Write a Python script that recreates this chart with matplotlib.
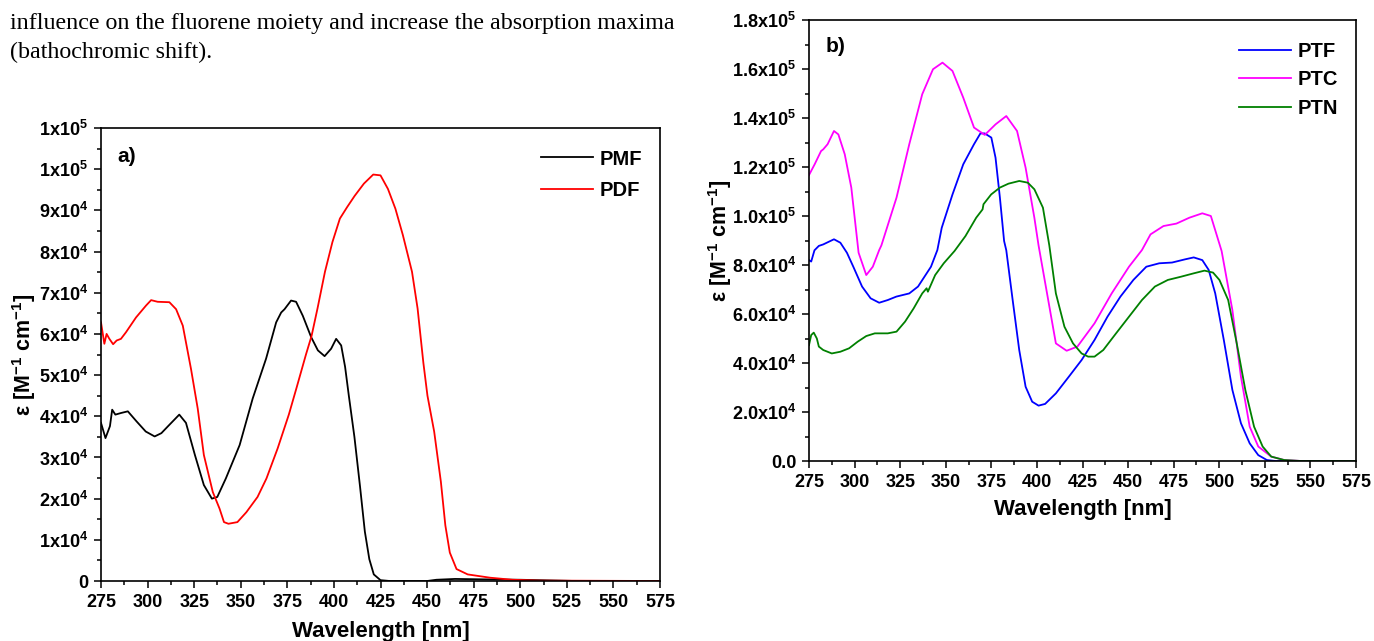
import numpy as np
import matplotlib
matplotlib.use("Agg")
import matplotlib.pyplot as plt
from matplotlib.ticker import MultipleLocator

plt.rcParams['font.family'] = ['Liberation Sans', 'DejaVu Sans']
plt.rcParams['font.weight'] = 'bold'
plt.rcParams['mathtext.fontset'] = 'custom'
plt.rcParams['mathtext.rm'] = 'Liberation Sans:bold'
plt.rcParams['mathtext.it'] = 'Liberation Sans:italic:bold'
plt.rcParams['mathtext.bf'] = 'Liberation Sans:bold'
plt.rcParams['mathtext.default'] = 'rm'

# panel a) PMF / PDF
pmf_wl = [275, 277.4, 279.8, 281, 282.7, 285.8, 289.4, 294, 299, 303.8, 307.4, 311, 317, 320.6,
          325.4, 330.2, 334.5, 337.4, 342, 349.4, 356.4, 363.6, 369, 371.7, 373.5, 377, 379.7,
          383.3, 387.8, 391.4, 395, 398.5, 401.2, 403.9, 406, 408, 411, 414, 416.6, 419, 421.4,
          425, 430, 450, 455, 465, 480, 500, 520, 530, 575]
pmf_eps = [38400, 34700, 37600, 41600, 40400, 40800, 41200, 38800, 36300, 35100, 35900, 37600,
           40400, 38400, 30600, 23300, 20000, 20400, 24900, 33000, 44300, 54000, 62800, 65200,
           66000, 68100, 67800, 64400, 59200, 56000, 54600, 56400, 58800, 57200, 52000, 45000,
           35000, 23000, 12000, 5300, 1600, 200, 0, 0, 300, 500, 400, 300, 100, 0, 0]

pdf_wl = [275, 276.8, 278, 279.5, 281.5, 283.4, 285.7, 288.4, 293.8, 299.2, 301.9, 305.4, 311.7,
          315.3, 318.9, 323.3, 326.9, 330.2, 335, 338.6, 341, 343.4, 348.2, 353, 359, 363.8,
          369.8, 375.8, 380, 385, 388, 391.2, 395.2, 399.2, 403.2, 407.1, 411.1, 416.1, 421.1,
          425, 429, 433, 437, 441.9, 444.9, 448, 450.2, 453.8, 457.4, 459.8, 462.2, 465.8,
          471.8, 483.8, 495.8, 510, 575]
pdf_eps = [62800, 57600, 60000, 58800, 57500, 58400, 58800, 60400, 64000, 66900, 68200, 67800,
           67700, 66000, 62000, 51500, 41900, 30600, 21600, 17600, 14300, 13900, 14300, 16700,
           20400, 24900, 32200, 40400, 47000, 55000, 59500, 66200, 75100, 82300, 88000, 90800,
           93500, 96500, 98700, 98500, 95200, 90400, 84000, 75100, 66200, 53000, 45000, 36300,
           24100, 13500, 6900, 2900, 1600, 800, 300, 100, 0]

# panel b) PTF / PTC / PTN
ptf_wl = [275, 276.2, 278, 280.4, 282.8, 288.7, 292.2, 295.8, 299.3, 304.1, 308.8, 313.5, 318.2,
          322.9, 330, 334.8, 341.9, 345.4, 347.8, 353.7, 359.6, 365.5, 369, 371.4, 375, 377.3,
          379.7, 382, 383.2, 386.7, 390.3, 393.8, 397.4, 400.9, 404.5, 410.4, 417.5, 424.5,
          431.6, 438.7, 445.8, 452.9, 460, 467.1, 474.1, 481.2, 486, 490.7, 494.2, 497.8, 502.5,
          507.2, 511.9, 516.7, 521.4, 526.1, 530.9, 575]
ptf_eps = [82000, 81400, 86000, 87800, 88400, 90500, 89100, 85000, 79300, 71200, 66400, 64600,
           65700, 67100, 68400, 71200, 79300, 86100, 95200, 108800, 121100, 129300, 133700,
           133700, 132000, 123800, 107500, 89800, 86000, 65700, 45300, 30300, 24200, 22600,
           23300, 27600, 34400, 41200, 49400, 58900, 67100, 73900, 79300, 80700, 81000, 82300,
           83100, 82000, 78000, 68400, 49400, 29000, 15400, 7200, 2400, 400, 0, 0]

ptc_wl = [275, 278.1, 281.6, 282.8, 285.2, 288.7, 291.1, 294.6, 298.2, 302.2, 306.4, 310,
          313.5, 314.7, 323, 330, 337.1, 343, 348.2, 353.7, 359.6, 365.5, 371.4, 377.3, 383.2,
          389.1, 393.8, 398.6, 400.9, 410.4, 416.3, 422.2, 431.6, 441, 450.5, 457.6, 462.3,
          469.4, 476.5, 483.6, 490.7, 495.4, 501.3, 507.2, 511.9, 516.7, 521.4, 528.5, 535.6,
          545, 575]
ptc_eps = [116700, 121100, 126500, 127200, 129300, 134700, 133300, 125200, 111600, 85000, 75900,
           79300, 86100, 88000, 107500, 129300, 149700, 159900, 162600, 159200, 148300, 136100,
           133100, 137400, 140800, 134700, 119700, 99300, 88000, 48000, 45000, 46700, 56200,
           68400, 79300, 86100, 92500, 95900, 96900, 99300, 101100, 100000, 85700, 61600, 34400,
           14000, 5900, 1800, 400, 0, 0]

ptn_wl = [275, 276.2, 277.6, 279.3, 280.4, 282.8, 287.5, 292.2, 297, 301.7, 306.4, 311.1, 318.2,
          323, 327.7, 332.4, 337.1, 339.5, 340.2, 344.2, 348.9, 354.8, 360.8, 366.7, 370.2,
          370.7, 374.9, 379.7, 384.4, 390.3, 395, 398.6, 403.3, 406.8, 410.4, 415.1, 419.8,
          424.5, 428.1, 431.6, 436.4, 443.4, 450.5, 457.6, 464.7, 471.8, 478.9, 486, 491.9,
          496.6, 500.1, 504.9, 509.6, 514.3, 519.1, 523.8, 528.5, 535.6, 545, 575]
ptn_eps = [47300, 51400, 52400, 50000, 46700, 45300, 43900, 44600, 46000, 48700, 51000, 52100,
           52100, 52800, 56900, 62300, 68400, 70500, 69100, 75900, 80700, 85700, 91800, 99300,
           102700, 104800, 108800, 111600, 113200, 114300, 113600, 110900, 103400, 88000, 68400,
           54800, 48000, 43900, 42600, 42600, 45300, 52100, 58900, 65700, 71200, 73900, 75200,
           76600, 77700, 76900, 73900, 65700, 48000, 29000, 14000, 5900, 1800, 400, 0, 0]

a_yticks = np.arange(0, 110001, 10000)
a_ylabels = ['0'] + [f'{i}x10$^{{4}}$' for i in range(1, 10)] + ['1x10$^{5}$', '1x10$^{5}$']
b_yticks = np.arange(0, 180001, 20000)
b_ylabels = ['0.0', '2.0x10$^{4}$', '4.0x10$^{4}$', '6.0x10$^{4}$', '8.0x10$^{4}$',
             '1.0x10$^{5}$', '1.2x10$^{5}$', '1.4x10$^{5}$', '1.6x10$^{5}$', '1.8x10$^{5}$']

W, H = 1374, 641
fig = plt.figure(figsize=(W / 100, H / 100), dpi=100)
fig.patch.set_facecolor('white')

fig.text(10 / W, 1 - 23 / H, 'influence on the fluorene moiety and increase the absorption maxima',
         family='Liberation Serif', weight='normal', fontsize=17.3, va='center')
fig.text(10 / W, 1 - 52 / H, '(bathochromic shift).',
         family='Liberation Serif', weight='normal', fontsize=17.3, va='center')

ax1 = fig.add_axes([101 / W, (H - 581) / H, 559 / W, 453 / H])
ax2 = fig.add_axes([809 / W, (H - 461) / H, 547 / W, 441 / H])


def style(ax, yticks, ylabels, ymax, yminor, ylab_x, xlab_y):
    ax.set_xlim(275, 575)
    ax.set_ylim(0, ymax)
    ax.set_xticks(np.arange(275, 576, 25))
    ax.xaxis.set_minor_locator(MultipleLocator(12.5))
    ax.set_yticks(yticks)
    ax.set_yticklabels(ylabels)
    ax.yaxis.set_minor_locator(MultipleLocator(yminor))
    ax.tick_params(which='major', direction='out', length=5.2, width=1.1, labelsize=13, pad=4)
    ax.tick_params(which='minor', direction='out', length=3.1, width=1.1)
    ax.tick_params(top=False, right=False, which='both')
    for s in ax.spines.values():
        s.set_linewidth(1.2)
    ax.set_xlabel('Wavelength [nm]', fontsize=16, fontweight='bold')
    ax.set_ylabel('ε [M$^{-1}$ cm$^{-1}$]', fontsize=15.5, fontweight='bold')
    ax.yaxis.set_label_coords(ylab_x, 0.5)
    ax.xaxis.set_label_coords(0.5, xlab_y)


ax1.plot(pmf_wl, pmf_eps, color='black', lw=1.3, label='PMF')
ax1.plot(pdf_wl, pdf_eps, color='red', lw=1.3, label='PDF')
style(ax1, a_yticks, a_ylabels, 110000, 5000, (38 - 101) / 559, (581 - 621) / 453)
ax1.text(0.030, 0.936, 'a)', transform=ax1.transAxes, fontsize=15, fontweight='bold', va='center')
ax1.legend(loc='upper right', bbox_to_anchor=(0.968, 0.9525), frameon=False, fontsize=14.5,
           handlelength=2.6, handletextpad=0.32, labelspacing=0.6, borderpad=0, borderaxespad=0)

ax2.plot(ptf_wl, ptf_eps, color='#0000ff', lw=1.3, label='PTF')
ax2.plot(ptc_wl, ptc_eps, color='#ff00ff', lw=1.3, label='PTC')
ax2.plot(ptn_wl, ptn_eps, color='#008000', lw=1.3, label='PTN')
style(ax2, b_yticks, b_ylabels, 180000, 10000, (734 - 809) / 547, (461 - 499) / 441)
ax2.text(0.031, 0.941, 'b)', transform=ax2.transAxes, fontsize=15, fontweight='bold', va='center')
ax2.legend(loc='upper right', bbox_to_anchor=(0.967, 0.951), frameon=False, fontsize=14.5,
           handlelength=2.6, handletextpad=0.32, labelspacing=0.49, borderpad=0, borderaxespad=0)

fig.savefig('out.png', dpi=100, facecolor='white')
